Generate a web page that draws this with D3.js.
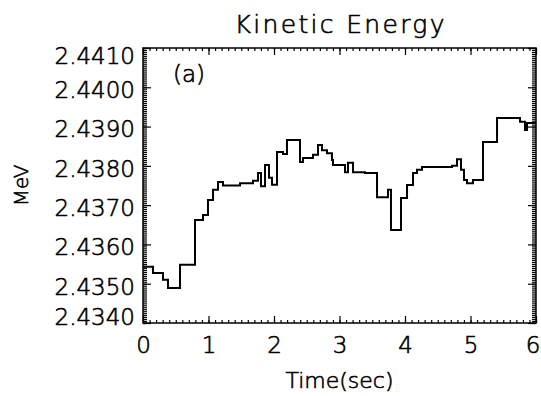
<!DOCTYPE html>
<html>
<head>
<meta charset="utf-8">
<script src="https://cdn.jsdelivr.net/npm/d3@7"></script>
<style>
  body { margin: 0; background: #fff; }
  text { font-family: "DejaVu Sans", sans-serif; font-weight: 200; fill: #000; stroke: #000; stroke-width: 0.6px; }
</style>
</head>
<body>
<div id="chart"></div>
<script>
// step start times (sec) and kinetic energy (MeV)
var times = [0, 0.153, 0.305, 0.382, 0.565, 0.794, 0.916, 0.992, 1.069, 1.145, 1.221, 1.481,
  1.679, 1.756, 1.802, 1.863, 1.924, 1.970, 2.046, 2.137, 2.198, 2.397, 2.443, 2.595, 2.672,
  2.733, 2.809, 2.885, 2.901, 3.084, 3.130, 3.206, 3.389, 3.573, 3.740, 3.786, 3.939, 4.031,
  4.122, 4.183, 4.260, 4.718, 4.794, 4.855, 4.901, 4.947, 5.038, 5.191, 5.405, 5.756, 5.832,
  5.863, 6.0];
var energy = [2.43543, 2.43527, 2.43510, 2.43489, 2.43548, 2.43662, 2.43675, 2.43713, 2.43739,
  2.43759, 2.43750, 2.43756, 2.43762, 2.43782, 2.43748, 2.43802, 2.43770, 2.43752, 2.43835,
  2.43830, 2.43866, 2.43810, 2.43820, 2.43828, 2.43853, 2.43840, 2.43832, 2.43815, 2.43802,
  2.43784, 2.43808, 2.43784, 2.43782, 2.43720, 2.43739, 2.43637, 2.43718, 2.43751, 2.43782,
  2.43790, 2.43797, 2.43800, 2.43817, 2.43790, 2.43764, 2.43756, 2.43764, 2.43861, 2.43922,
  2.43912, 2.43891, 2.43909, 2.43909];

var xTicks = [0, 1, 2, 3, 4, 5, 6];
var yTicks = [2.4340, 2.4350, 2.4360, 2.4370, 2.4380, 2.4390, 2.4400, 2.4410];

var W = 541, H = 396;
var margin = {top: 48, right: 5, bottom: 73, left: 143};
var width = W - margin.left - margin.right,
    height = H - margin.top - margin.bottom;

var svg = d3.select("#chart").append("svg")
    .attr("width", W)
    .attr("height", H);

var g = svg.append("g")
    .attr("transform", "translate(" + margin.left + "," + margin.top + ")");

var x = d3.scaleLinear().domain([0, 6]).range([0, width]);
var y = d3.scaleLinear().domain([2.4340, 2.4410]).range([height, 0]);

// minor ticks
var xMinor = d3.range(0, 60.5, 1).map(function(d) { return d / 10; });
var yMinor = d3.range(0, 140.5, 1).map(function(d) { return 2.4340 + d * 0.00005; });

function tickStyle(sel) {
  sel.select(".domain").remove();
  sel.selectAll("line").attr("stroke", "#000").attr("stroke-width", 1.2);
}

g.append("g").attr("transform", "translate(0," + height + ")")
  .call(d3.axisBottom(x).tickValues(xMinor).tickSize(-3).tickFormat("")).call(tickStyle);
g.append("g")
  .call(d3.axisTop(x).tickValues(xMinor).tickSize(-3).tickFormat("")).call(tickStyle);
g.append("g")
  .call(d3.axisLeft(y).tickValues(yMinor).tickSize(-4).tickFormat("")).call(tickStyle);
g.append("g").attr("transform", "translate(" + width + ",0)")
  .call(d3.axisRight(y).tickValues(yMinor).tickSize(-4).tickFormat("")).call(tickStyle);

// major ticks
var gx = g.append("g").attr("transform", "translate(0," + height + ")")
  .call(d3.axisBottom(x).tickValues(xTicks).tickSize(-7).tickPadding(22).tickFormat(d3.format("d")));
gx.call(tickStyle);
g.append("g")
  .call(d3.axisTop(x).tickValues(xTicks).tickSize(-7).tickFormat("")).call(tickStyle);
var gy = g.append("g")
  .call(d3.axisLeft(y).tickValues(yTicks).tickSize(-8).tickPadding(8).tickFormat(d3.format(".4f")));
gy.call(tickStyle);
g.append("g").attr("transform", "translate(" + width + ",0)")
  .call(d3.axisRight(y).tickValues(yTicks).tickSize(-8).tickFormat("")).call(tickStyle);

gx.selectAll("text").style("font-size", "23px").attr("dy", "0.35em");
// last x label sits flush against the right edge
gx.selectAll("text").filter(function(d) { return d === 6; }).attr("text-anchor", "end").attr("x", 4);
gy.selectAll("text").style("font-size", "23px").attr("dy", "0.45em");
// end labels are pulled inside the axis range
gy.selectAll("text").filter(function(d) { return d === 2.4410; }).attr("dy", "0.68em");
gy.selectAll("text").filter(function(d) { return d === 2.4340; }).attr("dy", "0.05em");

// frame
g.append("rect")
  .attr("width", width).attr("height", height)
  .attr("fill", "none").attr("stroke", "#000").attr("stroke-width", 1.5);

// data
var pts = times.map(function(t, i) { return {t: t, v: energy[i]}; });
var line = d3.line()
  .x(function(d) { return x(d.t); })
  .y(function(d) { return y(d.v); })
  .curve(d3.curveStepAfter);

g.append("path")
  .datum(pts)
  .attr("d", line)
  .attr("fill", "none")
  .attr("stroke", "#000")
  .attr("stroke-width", 2);

// texts
svg.append("text")
  .attr("x", margin.left + width / 2).attr("y", 33)
  .attr("text-anchor", "middle")
  .attr("textLength", 210).attr("lengthAdjust", "spacing")
  .style("font-size", "25px")
  .text("Kinetic Energy");

g.append("text")
  .attr("x", 30).attr("y", 34)
  .style("font-size", "23px")
  .text("(a)");

svg.append("text")
  .attr("x", margin.left + width / 2).attr("y", 388)
  .attr("text-anchor", "middle")
  .style("font-size", "22px")
  .text("Time(sec)");

svg.append("text")
  .attr("transform", "translate(28," + (margin.top + height / 2) + ") rotate(-90)")
  .attr("text-anchor", "middle")
  .style("font-size", "20px")
  .text("MeV");
</script>
</body>
</html>
